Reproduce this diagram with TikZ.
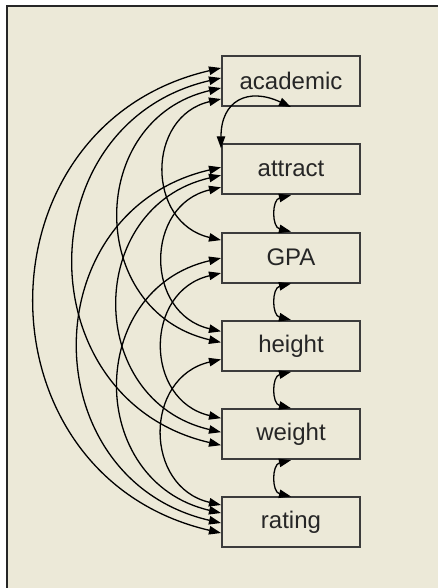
\documentclass[tikz,border=0pt]{standalone}
\usepackage{fontspec}
\setmainfont{Liberation Sans}
\usetikzlibrary{arrows.meta, positioning}
\definecolor{panel}{HTML}{ECE9D8}
\definecolor{boxline}{HTML}{3C3C3C}

\begin{document}
\begin{tikzpicture}[x=0.5pt, y=0.5pt,
  var/.style={rectangle, draw=boxline, line width=1pt, minimum width=69pt,
              minimum height=25pt, inner sep=0pt, text=black!85,
              font=\fontsize{12}{14}\selectfont},
  cov/.style={{Triangle[length=6pt,width=4.2pt]}-{Triangle[length=6pt,width=4.2pt]},
              line width=0.65pt, bend right=77, looseness=1.4}
]
\useasboundingbox (0,0) rectangle (438,588);
\fill[white] (0,0) rectangle (438,588);
\fill[panel] (6,0) rectangle (438,582);
\draw[black!85, line width=1pt] (6.5,0) -- (6.5,581.5) -- (438,581.5);
% observed variables
\foreach \n/\t [count=\i from 0] in {academic/academic, attract/attract, gpa/GPA,
                                     height/height, weight/weight, rating/rating}{
  \node[var] (\n) at (291, 507-\i*88.3) {\t};
}
% neighbours
\draw[cov, relative=false, out=155, in=90, looseness=1.5]
  (academic.south) to ([yshift=-2.5pt]attract.north west);
\foreach \a/\b in {attract/gpa, gpa/height, height/weight, weight/rating}{
  \draw[cov] (\a.south) to (\b.north);
}
% long covariances on the left
\foreach \a/\sa/\b/\sb in {academic/6.5/rating/-5.25, academic/1.5/weight/-5.5,
                           academic/-3.5/height/1.75, academic/-9/gpa/8.75,
                           attract/1/rating/-0.25, attract/-3/weight/1,
                           attract/-9/height/7.25,
                           gpa/-0.25/rating/4.75, gpa/-7.75/weight/8,
                           height/-6.75/rating/8.75}{
  \draw[cov] ([yshift=\sa pt]\a.west) to ([yshift=\sb pt]\b.west);
}
\end{tikzpicture}
\end{document}
